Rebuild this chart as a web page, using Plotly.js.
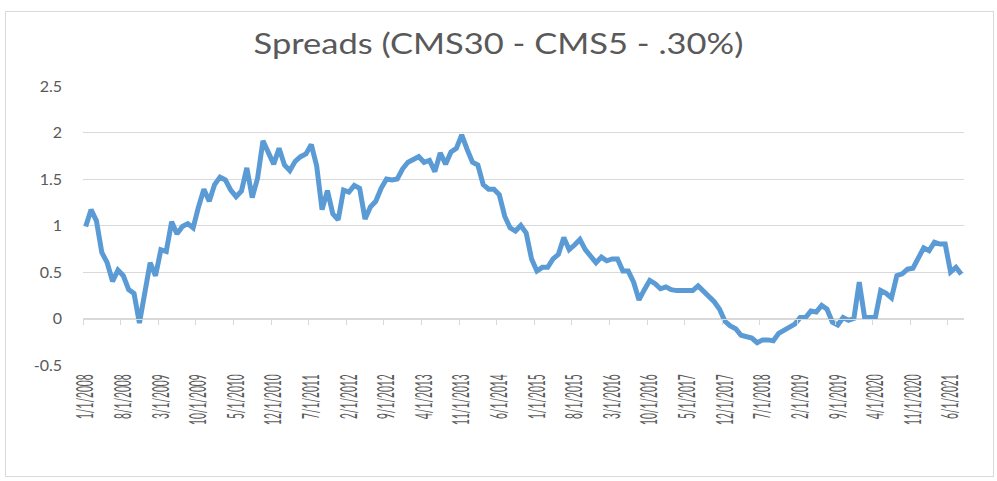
<!DOCTYPE html>
<html>
<head>
<meta charset="utf-8">
<script src="https://cdn.plot.ly/plotly-3.0.1.min.js"></script>
<style>
  html, body { margin: 0; padding: 0; background: #ffffff; }
  #wrap { position: relative; width: 997px; height: 481px; }
  #chart { position: absolute; left: 0; top: 0; width: 997px; height: 481px; }
  #frame { position: absolute; left: 5px; top: 11px; width: 987px; height: 464px;
           border: 1px solid #d9d9d9; pointer-events: none; }
</style>
</head>
<body>
<div id="wrap"><div id="chart"></div><div id="frame"></div></div>
<script>
// ---- data ----
const startYear = 2008;
const monthCount = 164;           // Jan 2008 .. Aug 2021
const months = [];
for (let i = 0; i < monthCount; i++) {
  const y = startYear + Math.floor(i / 12);
  const m = (i % 12) + 1;
  months.push(m + "/1/" + y);
}

const spread = [
  0.99, 1.17, 1.05, 0.71, 0.60, 0.40, 0.52, 0.46, 0.31, 0.27,
  -0.05, 0.28, 0.60, 0.46, 0.74, 0.72, 1.04, 0.91, 0.99, 1.02,
  0.975, 1.20, 1.39, 1.26, 1.44, 1.52, 1.49, 1.38, 1.31, 1.37,
  1.62, 1.30, 1.51, 1.91, 1.78, 1.66, 1.83, 1.65, 1.59, 1.69,
  1.74, 1.77, 1.87, 1.64, 1.17, 1.375, 1.125, 1.06, 1.38, 1.36,
  1.43, 1.40, 1.07, 1.20, 1.26, 1.40, 1.50, 1.49, 1.50, 1.61,
  1.68, 1.71, 1.74, 1.68, 1.70, 1.58, 1.78, 1.66, 1.79, 1.83,
  1.975, 1.82, 1.68, 1.65, 1.44, 1.39, 1.39, 1.33, 1.10, 0.975,
  0.94, 1.00, 0.92, 0.64, 0.51, 0.55, 0.55, 0.64, 0.69, 0.87,
  0.74, 0.79, 0.85, 0.74, 0.67, 0.60, 0.66, 0.62, 0.64, 0.64,
  0.51, 0.51, 0.39, 0.20, 0.31, 0.41, 0.375, 0.32, 0.34, 0.31,
  0.30, 0.30, 0.30, 0.30, 0.35, 0.29, 0.23, 0.18, 0.10, -0.03,
  -0.08, -0.11, -0.18, -0.20, -0.21, -0.26, -0.23, -0.23, -0.24, -0.16,
  -0.13, -0.10, -0.06, 0.01, 0.01, 0.08, 0.07, 0.14, 0.10, -0.04,
  -0.07, 0.01, -0.02, 0.00, 0.39, 0.01, 0.01, 0.01, 0.30, 0.27,
  0.22, 0.46, 0.48, 0.53, 0.54, 0.66, 0.76, 0.73, 0.82, 0.80,
  0.80, 0.50, 0.55, 0.475
];

const yTickVals = [-0.5, 0, 0.5, 1, 1.5, 2, 2.5];
const yTickText = ["-0.5", "0", "0.5", "1", "1.5", "2", "2.5"];
const titleText = "Spreads (CMS30 - CMS5 - .30%)";

// ---- chart ----
const gray = "#595959";
const grid = "#d9d9d9";
const fontFam = "Lato, 'Open Sans', sans-serif";

const traces = [
  {
    x: months, y: spread, type: "scatter", mode: "lines",
    line: { color: "#5b9bd5", width: 5, shape: "linear" },
    hoverinfo: "x+y", showlegend: false
  },
  { // carries the tick marks that sit on the zero line
    x: months, y: spread, type: "scatter", mode: "lines",
    xaxis: "x2", yaxis: "y",
    line: { color: "rgba(0,0,0,0)", width: 0 },
    hoverinfo: "skip", showlegend: false
  }
];

const layout = {
  width: 997, height: 481,
  margin: { l: 83, r: 33, t: 86, b: 116, pad: 0 },
  paper_bgcolor: "#ffffff", plot_bgcolor: "#ffffff",
  title: {
    text: titleText,
    font: { family: fontFam, size: 28, color: gray },
    x: 0.5, xref: "container", xanchor: "center",
    y: 1 - 44 / 481, yref: "container", yanchor: "middle"
  },
  xaxis: {
    type: "category",
    range: [-0.5, monthCount - 0.5],
    tickmode: "linear", tick0: 0, dtick: 7,
    tickangle: -90,
    ticks: "", showgrid: false, showline: false, zeroline: false,
    tickfont: { family: fontFam, size: 12, color: gray },
    ticklabelstandoff: 6,
    fixedrange: true
  },
  xaxis2: {
    type: "category", overlaying: "x", anchor: "free",
    position: 0.5 / 3,
    range: [-0.5, monthCount - 0.5],
    tickmode: "linear", tick0: 0, dtick: 7,
    tickson: "boundaries",
    ticks: "outside", ticklen: 5, tickwidth: 1, tickcolor: grid,
    showticklabels: false, showgrid: false, zeroline: false,
    showline: true, linecolor: grid, linewidth: 1,
    fixedrange: true
  },
  yaxis: {
    range: [-0.5, 2.5],
    tickmode: "array", tickvals: yTickVals, ticktext: yTickText,
    showgrid: true, gridcolor: grid, gridwidth: 1,
    zeroline: false, showline: false, ticks: "",
    tickfont: { family: fontFam, size: 16, color: gray },
    ticklabelstandoff: 20,
    fixedrange: true
  },
  showlegend: false
};

// The reference rendering has horizontally widened glyphs; emulate with SVG scaling.
function widenText(el, sx, sy) {
  const r0 = el.getBoundingClientRect();
  const cx0 = (r0.left + r0.right) / 2, top0 = r0.top;
  const x = parseFloat(el.getAttribute("x")) || 0;
  const y = parseFloat(el.getAttribute("y")) || 0;
  const base = el.getAttribute("transform") || "";
  el.setAttribute("transform",
    base + " translate(" + x + "," + y + ") scale(" + sx + "," + sy + ") translate(" + (-x) + "," + (-y) + ")");
  return { cx0: cx0, top0: top0 };
}

Plotly.newPlot("chart", traces, layout, { displayModeBar: false, staticPlot: true }).then(function (gd) {
  // x tick labels: rotated -90, so local x = length (screen y), local y = thickness (screen x)
  const xl = gd.querySelectorAll(".xaxislayer-above .xtick text");
  xl.forEach(function (t) {
    const ref = widenText(t, 0.85, 1.85);
    const r1 = t.getBoundingClientRect();
    const dx = ref.cx0 - (r1.left + r1.right) / 2;
    const dy = ref.top0 - r1.top;
    t.setAttribute("transform", "translate(" + dx + "," + dy + ") " + t.getAttribute("transform"));
  });
  // title: widen horizontally to the reference width
  const tt = gd.querySelector(".gtitle");
  if (tt) {
    const r0 = tt.getBoundingClientRect();
    const s = 490 / r0.width;
    widenText(tt, s, 1.0);
    const r1 = tt.getBoundingClientRect();
    const dx = 498.5 - (r1.left + r1.right) / 2;
    tt.setAttribute("transform", "translate(" + dx + ",0) " + tt.getAttribute("transform"));
  }
});
</script>
</body>
</html>
